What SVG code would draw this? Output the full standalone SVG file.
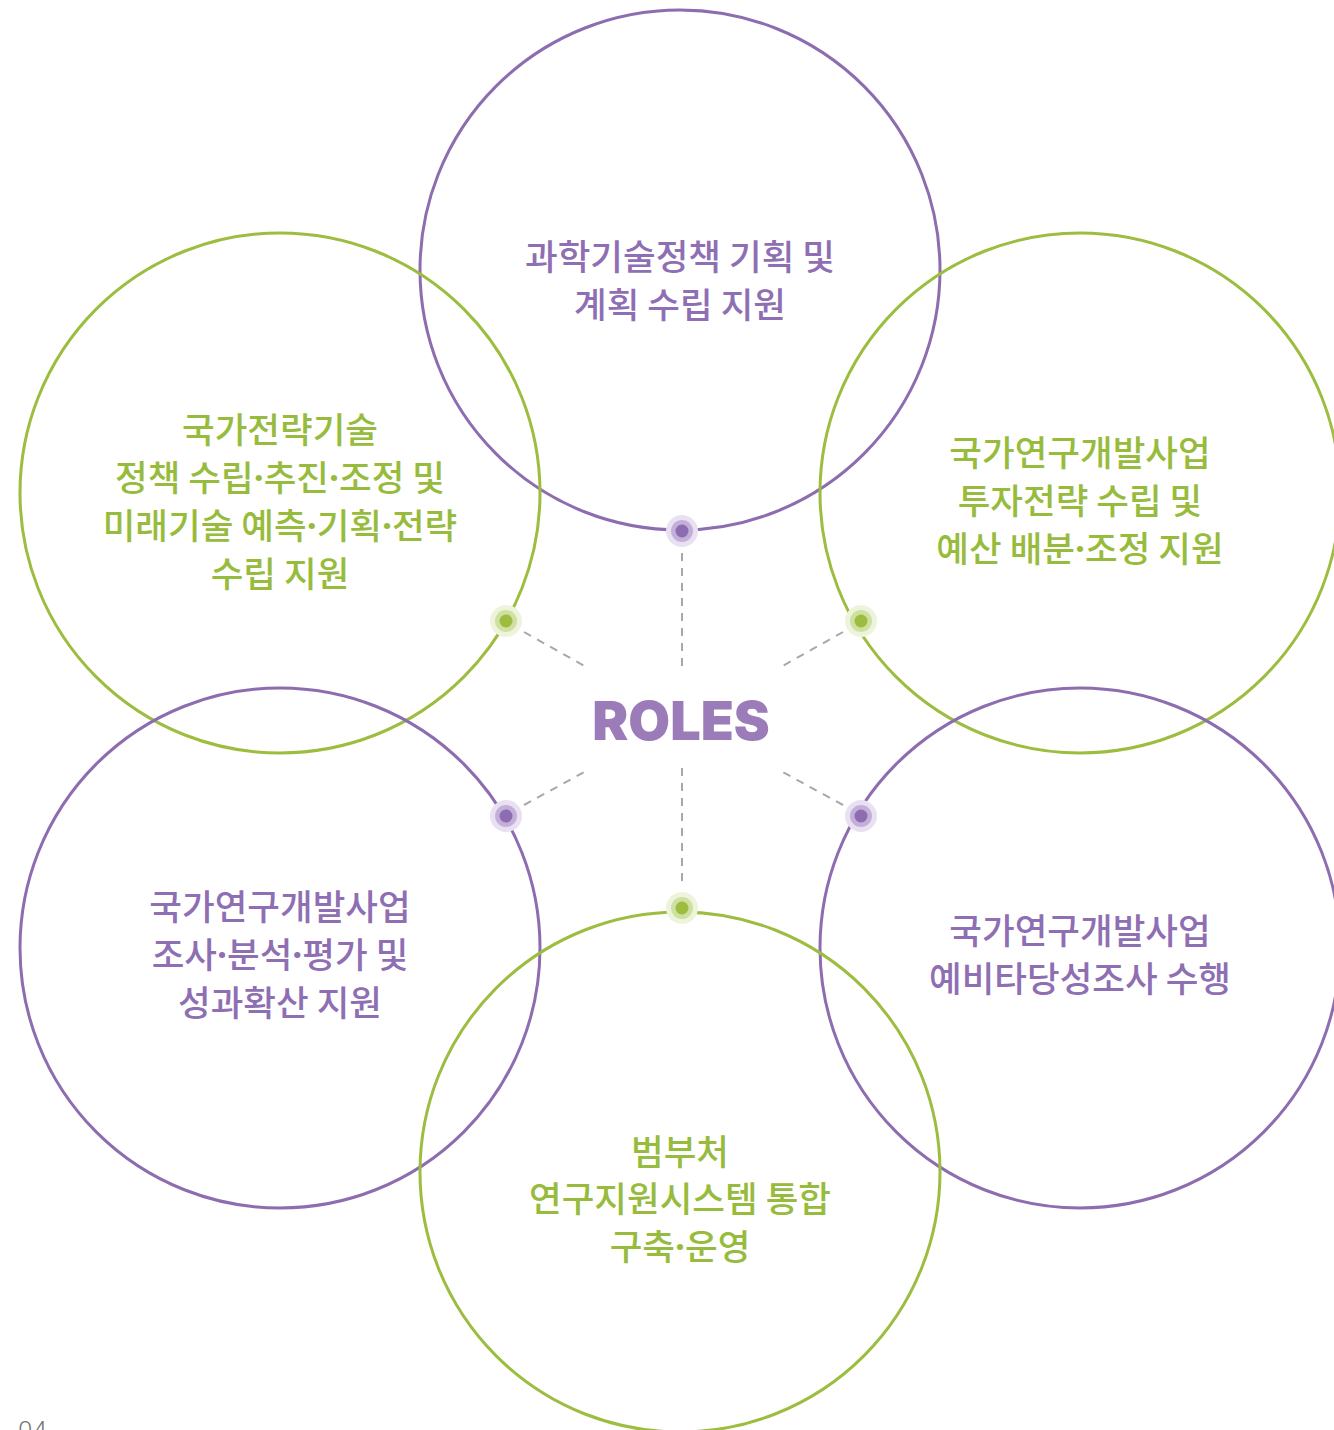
<svg xmlns="http://www.w3.org/2000/svg" width="1334" height="1430" viewBox="0 0 1334 1430">
<style>
.cp{fill:none;stroke:#8d6cb0;stroke-width:3}
.cg{fill:none;stroke:#9cbd40;stroke-width:3}
.tp{fill:#8f6fb3;font-family:"Noto Sans CJK KR","Noto Sans",sans-serif;font-size:35.5px;font-weight:500;text-anchor:middle}
.tg{fill:#97bc3d;font-family:"Noto Sans CJK KR","Noto Sans",sans-serif;font-size:35.5px;font-weight:500;text-anchor:middle}
.d{font-family:"Noto Sans","Liberation Sans",sans-serif;font-weight:700}
.dash{stroke:#a8a8a8;stroke-width:2;stroke-dasharray:8 7;fill:none}
</style>
<rect width="1334" height="1430" fill="#fff"/>
<g id="node-top"><circle class="cp" cx="680" cy="270" r="260"/>
<text class="tp" x="680" y="270">과학기술정책 기획 및</text><text class="tp" x="680" y="318">계획 수립 지원</text></g>
<g id="node-left"><circle class="cg" cx="280" cy="493" r="260"/>
<text class="tg" x="280" y="443">국가전략기술</text><text class="tg" x="280" y="491">정책 수립<tspan class="d">·</tspan>추진<tspan class="d">·</tspan>조정 및</text><text class="tg" x="280" y="539">미래기술 예측<tspan class="d">·</tspan>기획<tspan class="d">·</tspan>전략</text><text class="tg" x="280" y="587">수립 지원</text></g>
<g id="node-right"><circle class="cg" cx="1080" cy="493" r="260"/>
<text class="tg" x="1080" y="466">국가연구개발사업</text><text class="tg" x="1080" y="514">투자전략 수립 및</text><text class="tg" x="1080" y="562">예산 배분<tspan class="d">·</tspan>조정 지원</text></g>
<g id="node-bottom-left"><circle class="cp" cx="280" cy="948" r="260"/>
<text class="tp" x="280" y="920">국가연구개발사업</text><text class="tp" x="280" y="968">조사<tspan class="d">·</tspan>분석<tspan class="d">·</tspan>평가 및</text><text class="tp" x="280" y="1016">성과확산 지원</text></g>
<g id="node-bottom-right"><circle class="cp" cx="1080" cy="948" r="260"/>
<text class="tp" x="1080" y="944">국가연구개발사업</text><text class="tp" x="1080" y="992">예비타당성조사 수행</text></g>
<g id="node-bottom"><circle class="cg" cx="680" cy="1172" r="260"/>
<text class="tg" x="680" y="1165">범부처</text><text class="tg" x="680" y="1212">연구지원시스템 통합</text><text class="tg" x="680" y="1260">구축<tspan class="d">·</tspan>운영</text></g>
<g id="connectors">
<line class="dash" x1="682" y1="553" x2="682" y2="672"/>
<line class="dash" x1="682" y1="768" x2="682" y2="888"/>
<line class="dash" x1="524" y1="632" x2="588" y2="668"/>
<line class="dash" x1="843" y1="632" x2="779" y2="668"/>
<line class="dash" x1="524" y1="805" x2="588" y2="770"/>
<line class="dash" x1="843" y1="805" x2="779" y2="770"/>
</g>
<g id="dots">
<g id="dot-top"><circle cx="682" cy="531" r="16" fill="#e9e1f1"/><circle cx="682" cy="531" r="11" fill="#c3b0da"/><circle cx="682" cy="531" r="6.5" fill="#8d6cb0"/></g>
<g id="dot-ul"><circle cx="506" cy="621" r="16" fill="#eef4dc"/><circle cx="506" cy="621" r="11" fill="#cfe0a3"/><circle cx="506" cy="621" r="6.5" fill="#9cbd40"/></g>
<g id="dot-ur"><circle cx="861" cy="621" r="16" fill="#eef4dc"/><circle cx="861" cy="621" r="11" fill="#cfe0a3"/><circle cx="861" cy="621" r="6.5" fill="#9cbd40"/></g>
<g id="dot-ll"><circle cx="506" cy="816" r="16" fill="#e9e1f1"/><circle cx="506" cy="816" r="11" fill="#c3b0da"/><circle cx="506" cy="816" r="6.5" fill="#8d6cb0"/></g>
<g id="dot-lr"><circle cx="861" cy="816" r="16" fill="#e9e1f1"/><circle cx="861" cy="816" r="11" fill="#c3b0da"/><circle cx="861" cy="816" r="6.5" fill="#8d6cb0"/></g>
<g id="dot-bottom"><circle cx="682" cy="908" r="16" fill="#eef4dc"/><circle cx="682" cy="908" r="11" fill="#cfe0a3"/><circle cx="682" cy="908" r="6.5" fill="#9cbd40"/></g>
</g>
<text x="681" y="740" text-anchor="middle" font-family="Inter,'Noto Sans',sans-serif" font-weight="900" font-size="54" fill="#9b7bb8">ROLES</text>
<text x="18" y="1440" font-family="Roboto,'Liberation Sans',sans-serif" font-weight="300" font-size="26" fill="#777">04</text>
</svg>
